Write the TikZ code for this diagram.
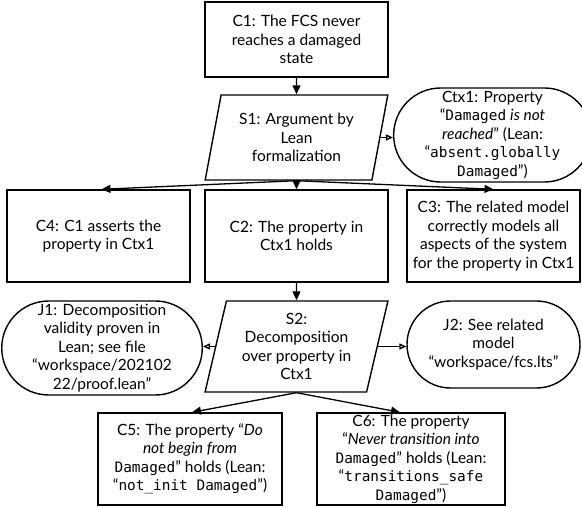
\documentclass[tikz,border=0pt]{standalone}
\usepackage{fontspec}
\setmainfont{Lato}
\newfontfamily\monofnt[Scale=0.93]{DejaVu Sans Mono}
\newcommand{\mono}[1]{{\monofnt #1}}
\usetikzlibrary{shapes.geometric,shapes.misc,arrows.meta}

\tikzset{
  base/.style={draw, line width=1.4pt, inner sep=0pt, align=center,
    font=\fontsize{15.5}{18.5}\selectfont},
  claim/.style={base, rectangle, minimum width=183pt, minimum height=92pt},
  strategy/.style={base, trapezium, trapezium left angle=76,
    trapezium right angle=104, trapezium stretches=true,
    minimum width=183pt, minimum height=88pt},
  context/.style={base, rounded rectangle, rounded rectangle arc length=180,
    minimum width=175pt, minimum height=94pt},
  arr/.style={line width=1.3pt, -{Triangle[length=9pt,width=8pt]}},
  oarr/.style={line width=1.3pt, -{Triangle[open,length=7pt,width=6pt]}},
}

\begin{document}
\begin{tikzpicture}[x=1pt,y=-1pt]
\useasboundingbox (0,0) rectangle (582,508);

% top goal and its strategy
\node[claim, minimum height=75pt] (C1) at (296.5,39.5)
  {C1: The FCS never\\reaches a damaged\\state};
\node[strategy, minimum height=85pt] (S1) at (296.5,137.5)
  {S1: Argument by\\Lean\\formalization};
\node[context] (Ctx1) at (492.5,135)
  {Ctx1: Property\\“\mono{Damaged} \textit{is not}\\\textit{reached}” (Lean:\\“\mono{absent.globally}\\\mono{Damaged}”)};

% sub-claims of S1
\node[claim] (C4) at (98.5,236) {C4: C1 asserts the\\property in Ctx1};
\node[claim] (C2) at (296.5,236) {C2: The property in\\Ctx1 holds};
\node[claim, minimum width=173pt] (C3) at (493.5,236)
  {C3: The related model\\correctly models all\\aspects of the system\\for the property in Ctx1};

% decomposition strategy with its justifications
\node[strategy, minimum height=91pt] (S2) at (296.5,346.5)
  {S2:\\Decomposition\\over property in\\Ctx1};
\node[context, minimum width=188pt] (J1) at (102,348)
  {J1: Decomposition\\validity proven in\\Lean; see file\\“workspace/202102\\22/proof.lean”};
\node[context, minimum width=173pt, minimum height=87pt] (J2) at (493.5,344.5)
  {J2: See related\\model\\“workspace/fcs.lts”};

% leaf claims
\node[claim, minimum width=184pt] (C5) at (190,459)
  {C5: The property “\textit{Do}\\\textit{not begin from}\\\mono{Damaged}” holds (Lean:\\“\mono{not\_init Damaged}”)};
\node[claim, minimum width=188pt] (C6) at (411,459)
  {C6: The property\\“\textit{Never transition into}\\\mono{Damaged}” holds (Lean:\\“\mono{transitions\_safe}\\\mono{Damaged}”)};

% connectors
\draw[arr] (C1.south) -- (S1.north);
\draw[arr] (S1.south) -- ([xshift=3pt]C4.north);
\draw[arr] (S1.south) -- (C2.north);
\draw[arr] (S1.south) -- (C3.north);
\draw[oarr] (S1.east) -- (S1.east -| Ctx1.west);
\draw[arr] (C2.south) -- (S2.north);
\draw[oarr] (S2.west) -- (S2.west -| J1.east);
\draw[oarr] (S2.east) -- (S2.east -| J2.west);
\draw[arr] (S2.south) -- ([xshift=2pt]C5.north);
\draw[arr] (S2.south) -- ([xshift=-11pt]C6.north);
\end{tikzpicture}
\end{document}
